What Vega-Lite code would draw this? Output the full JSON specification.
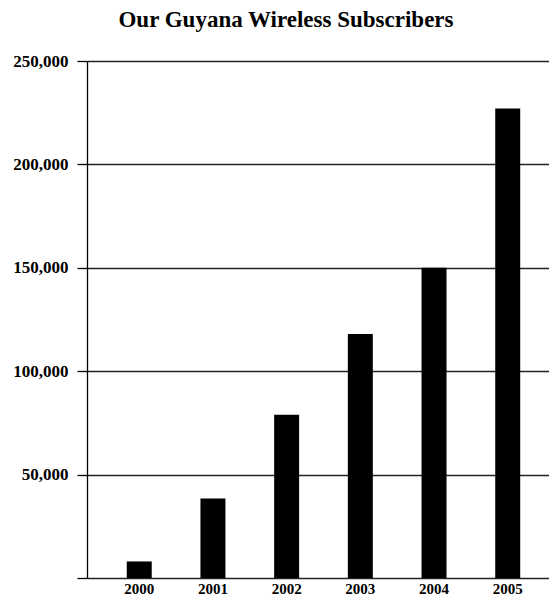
{
  "$schema": "https://vega.github.io/schema/vega-lite/v6.json",
  "autosize": "none",
  "width": 462,
  "height": 517,
  "padding": {"left": 87, "top": 61, "right": 0, "bottom": 25},
  "background": "white",
  "title": {
    "text": "Our Guyana Wireless Subscribers",
    "font": "Liberation Serif",
    "fontSize": 23,
    "fontWeight": "bold",
    "color": "black",
    "anchor": "middle",
    "dx": -32,
    "offset": 20
  },
  "data": {
    "values": [
      {"year": "2000", "subscribers": 8000},
      {"year": "2001", "subscribers": 38500},
      {"year": "2002", "subscribers": 79000},
      {"year": "2003", "subscribers": 118000},
      {"year": "2004", "subscribers": 150000},
      {"year": "2005", "subscribers": 227000}
    ]
  },
  "mark": {"type": "bar", "color": "black"},
  "encoding": {
    "x": {
      "field": "year",
      "type": "ordinal",
      "scale": {"paddingInner": 0.661, "paddingOuter": 0.465, "align": 0.58},
      "axis": {
        "title": null,
        "labelAngle": 0,
        "domain": false,
        "ticks": false,
        "labelFont": "Liberation Serif",
        "labelFontSize": 15,
        "labelFontWeight": "bold",
        "labelColor": "black",
        "labelPadding": 3
      }
    },
    "y": {
      "field": "subscribers",
      "type": "quantitative",
      "scale": {"domain": [0, 250000], "nice": false},
      "axis": {
        "title": null,
        "values": [0, 50000, 100000, 150000, 200000, 250000],
        "labelExpr": "datum.value == 0 ? '' : format(datum.value, ',')",
        "grid": true,
        "gridColor": "#222",
        "gridWidth": 1.3,
        "gridOpacity": 1,
        "domainColor": "black",
        "domainWidth": 1.3,
        "tickColor": "black",
        "tickSize": 10,
        "tickWidth": 1.3,
        "labelFont": "Liberation Serif",
        "labelFontSize": 17,
        "labelFontWeight": "bold",
        "labelColor": "black",
        "labelPadding": 9
      }
    }
  },
  "config": {
    "view": {"stroke": null}
  }
}
